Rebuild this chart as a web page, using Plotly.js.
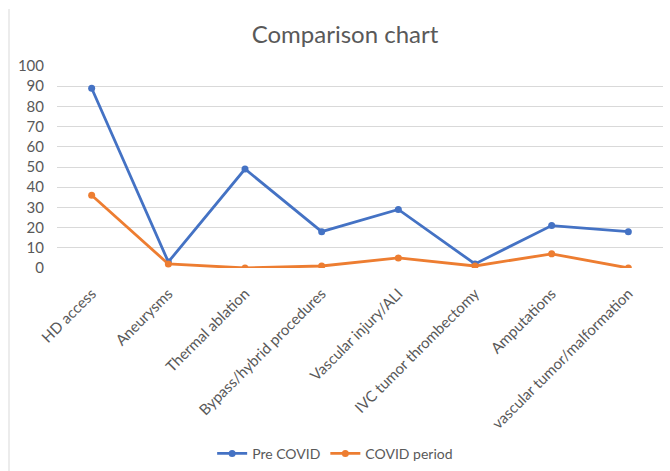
<!DOCTYPE html>
<html>
<head>
<meta charset="utf-8">
<script src="https://cdn.plot.ly/plotly-3.0.1.min.js"></script>
<style>html,body{margin:0;padding:0;background:#fff;}#chart{width:670px;height:471px;}</style>
</head>
<body>
<div id="chart"></div>
<script>
const categories = ["HD access", "Aneurysms", "Thermal ablation", "Bypass/hybrid procedures", "Vascular injury/ALI", "IVC tumor thrombectomy", "Amputations", "vascular tumor/malformation"];
const preCovid = [89, 3, 49, 18, 29, 2, 21, 18];
const covidPeriod = [36, 2, 0, 1, 5, 1, 7, 0];
const yTicks = [0, 10, 20, 30, 40, 50, 60, 70, 80, 90, 100];

const gray = "#595959";
const font = "Lato, Open Sans, sans-serif";

const traces = [
  {x: categories, y: preCovid, name: "Pre COVID", type: "scatter", mode: "lines+markers",
   line: {color: "#4472C4", width: 2.8}, marker: {color: "#4472C4", size: 7}},
  {x: categories, y: covidPeriod, name: "COVID period", type: "scatter", mode: "lines+markers",
   line: {color: "#ED7D31", width: 2.8}, marker: {color: "#ED7D31", size: 7}}
];

const layout = {
  width: 670, height: 471,
  margin: {l: 57, r: 7, t: 66, b: 203, autoexpand: false},
  paper_bgcolor: "#fff", plot_bgcolor: "#fff",
  font: {family: font, color: gray, size: 14},
  title: {text: "Comparison chart", font: {family: font, size: 24, color: gray},
          xref: "container", x: 0.515, xanchor: "center", yref: "container", y: 0.926, yanchor: "middle"},
  xaxis: {type: "category", tickangle: -45, showgrid: false, showline: false, zeroline: false, automargin: false,
          ticks: "", ticklabelstandoff: 13, tickfont: {size: 15, color: gray}, fixedrange: true},
  yaxis: {range: [0, 100], tickvals: yTicks, showgrid: true, gridcolor: "#d9d9d9", gridwidth: 1, automargin: false,
          zeroline: false, showline: false, ticks: "", ticklabelstandoff: 12,
          tickfont: {size: 15, color: gray}},
  legend: {orientation: "h", x: 0.459, xanchor: "center", y: -0.92, yanchor: "middle",
           font: {size: 14, color: gray}, itemwidth: 30, traceorder: "normal"},
  showlegend: true,
  shapes: [{type: "line", xref: "paper", yref: "paper", x0: -0.0792, x1: -0.0792, y0: 1.282, y1: -1.01,
            line: {color: "#d9d9d9", width: 1}}]
};

Plotly.newPlot("chart", traces, layout, {staticPlot: true, displayModeBar: false});
</script>
</body>
</html>
